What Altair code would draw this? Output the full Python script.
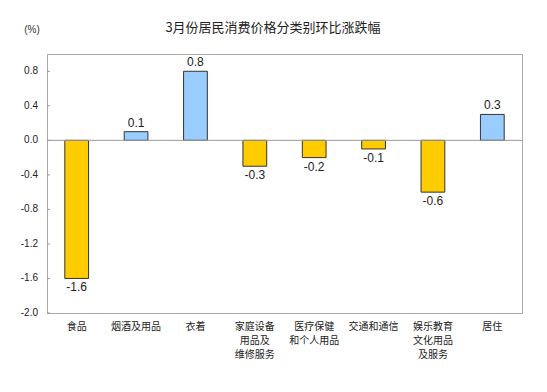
import altair as alt
import pandas as pd

categories = ["食品", "烟酒及用品", "衣着", "家庭设备\n用品及\n维修服务", "医疗保健\n和个人用品", "交通和通信", "娱乐教育\n文化用品\n及服务", "居住"]
values = [-1.6, 0.1, 0.8, -0.3, -0.2, -0.1, -0.6, 0.3]
y_ticks = [0.8, 0.4, 0.0, -0.4, -0.8, -1.2, -1.6, -2.0]
title_text = "3月份居民消费价格分类别环比涨跌幅"
unit_text = "(%)"

df = pd.DataFrame({"cat": categories, "val": values})
df["sign"] = ["pos" if v > 0 else "neg" for v in values]
df["label"] = [f"{v:.1f}" for v in values]
tick_df = pd.DataFrame({"t": y_ticks, "tl": [f"{v:.1f}" for v in y_ticks]})

FONT = "Liberation Sans"
CJK = "Noto Sans CJK SC"
W, H = 475, 259

x = alt.X("cat:N", sort=categories, title=None,
          scale=alt.Scale(paddingInner=0.6, paddingOuter=0.3),
          axis=alt.Axis(labelExpr="split(datum.label, '\\n')", labelAngle=0,
                        labelFont=CJK, labelFontSize=10, labelColor="#222",
                        ticks=False, domain=False, labelPadding=8, labelLineHeight=14))
yscale = alt.Scale(domain=[-2.0, 1.0], nice=False)

bars = alt.Chart(df).mark_bar(stroke="#333333", strokeWidth=1).encode(
    x=x, y=alt.Y("val:Q", scale=yscale, axis=None),
    color=alt.Color("sign:N", scale=alt.Scale(domain=["pos", "neg"], range=["#99CCFF", "#FFCC00"]), legend=None),
)

zero = alt.Chart(df.head(1)).mark_rule(color="#999999", strokeWidth=1).encode(
    y=alt.Y("z:Q", scale=yscale, axis=None)).transform_calculate(z="0")

ticks = alt.Chart(tick_df).mark_rule(color="#999999", strokeWidth=1).encode(
    y=alt.Y("t:Q", scale=yscale, axis=None), x=alt.value(0), x2=alt.value(3))

tick_labels = alt.Chart(tick_df).mark_text(align="right", baseline="middle", font=FONT, fontSize=10, color="#222").encode(
    y=alt.Y("t:Q", scale=yscale, axis=None), x=alt.value(-9), text="tl:N")

pos_labels = alt.Chart(df[df.val > 0]).mark_text(dy=-9, font=FONT, fontSize=12, color="#222").encode(
    x=alt.X("cat:N", sort=categories), y=alt.Y("val:Q", scale=yscale, axis=None), text="label:N")
neg_labels = alt.Chart(df[df.val < 0]).mark_text(dy=9, font=FONT, fontSize=12, color="#222").encode(
    x=alt.X("cat:N", sort=categories), y=alt.Y("val:Q", scale=yscale, axis=None), text="label:N")

pct = alt.Chart(pd.DataFrame({"t": [unit_text]})).mark_text(font=FONT, fontSize=10, color="#333").encode(
    x=alt.value(-15), y=alt.value(-24), text="t:N")

title = alt.Chart(pd.DataFrame({"t": [title_text]})).mark_text(font=CJK, fontSize=13, color="#222").encode(
    x=alt.value(226), y=alt.value(-26), text="t:N")

chart = alt.layer(bars, zero, ticks, tick_labels, pos_labels, neg_labels, pct, title).properties(
    width=W, height=H,
    autosize=alt.AutoSizeParams(type="none"),
    padding={"left": 39, "top": 46, "right": 17, "bottom": 71},
).configure_view(stroke="#aaaaaa", strokeWidth=1)

chart.save("out.html", embed_options={"renderer": "svg", "actions": False})
